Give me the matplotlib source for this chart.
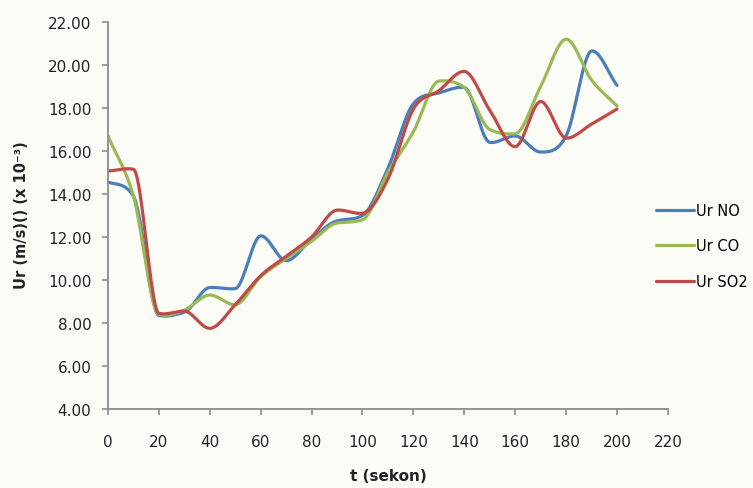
import numpy as np
import matplotlib.pyplot as plt
from matplotlib.ticker import FormatStrFormatter, MultipleLocator

# time (s) and Ur readings (x 10^-3 m/s) for each gas
t = [0, 10, 20, 30, 40, 50, 60, 70, 80, 90, 100,
     110, 120, 130, 140, 150, 160, 170, 180, 190, 200]
ur_no = [14.55, 13.9, 8.35, 8.5, 9.65, 9.6, 12.05, 10.9, 11.9, 12.75, 13.0,
         15.2, 18.2, 18.7, 18.95, 16.4, 16.7, 15.95, 16.7, 20.65, 19.05]
ur_co = [16.7, 13.9, 8.4, 8.6, 9.3, 8.85, 10.15, 11.0, 11.8, 12.65, 12.8,
         15.0, 16.9, 19.25, 18.95, 17.0, 16.8, 19.0, 21.2, 19.3, 18.1]
ur_so2 = [15.07, 15.15, 8.45, 8.55, 7.75, 8.85, 10.2, 11.1, 12.0, 13.25, 13.1,
          14.7, 17.95, 18.8, 19.7, 17.9, 16.2, 18.3, 16.6, 17.25, 17.95]

series = [("Ur NO", ur_no, "#4a7ebb"),
          ("Ur CO", ur_co, "#98b954"),
          ("Ur SO2", ur_so2, "#be4b48")]


def smooth(x, y, n=30):
    # cubic Hermite curve through the points; tangents softened at peaks
    # and limited on steep steps so the curve does not overshoot much
    x = np.asarray(x, float)
    y = np.asarray(y, float)
    h = np.diff(x)
    d = np.diff(y) / h
    m = np.zeros_like(y)
    m[0], m[-1] = d[0], d[-1]
    for i in range(1, len(y) - 1):
        avg = 0.5 * (d[i - 1] + d[i])
        if d[i - 1] * d[i] <= 0:
            m[i] = 0.15 * avg
        else:
            m[i] = avg
    for i in range(len(d)):
        if d[i] == 0:
            continue
        a, b = m[i] / d[i], m[i + 1] / d[i]
        r = a * a + b * b
        if r > 9:
            k = 3 / np.sqrt(r)
            m[i], m[i + 1] = k * a * d[i], k * b * d[i]
    xs, ys = [], []
    s = np.linspace(0, 1, n, endpoint=False)
    for i in range(len(d)):
        h00 = 2 * s ** 3 - 3 * s ** 2 + 1
        h10 = s ** 3 - 2 * s ** 2 + s
        h01 = -2 * s ** 3 + 3 * s ** 2
        h11 = s ** 3 - s ** 2
        xs.append(x[i] + s * h[i])
        ys.append(h00 * y[i] + h10 * h[i] * m[i] + h01 * y[i + 1] + h11 * h[i] * m[i + 1])
    xs.append([x[-1]])
    ys.append([y[-1]])
    return np.concatenate(xs), np.concatenate(ys)


bg = "#fcfcf7"
fig = plt.figure(figsize=(7.53, 4.89), dpi=100, facecolor=bg)
ax = fig.add_axes([0.1434, 0.1616, 0.7436, 0.7914], facecolor=bg)

for name, vals, col in series:
    sx, sy = smooth(t, vals)
    ax.plot(sx, sy, color=col, lw=2.3, label=name, solid_capstyle="round")

ax.set_xlim(0, 220)
ax.set_ylim(4, 22)
ax.xaxis.set_major_locator(MultipleLocator(20))
ax.yaxis.set_major_locator(MultipleLocator(2))
ax.yaxis.set_major_formatter(FormatStrFormatter("%.2f"))

for side in ["top", "right"]:
    ax.spines[side].set_visible(False)
for side in ["left", "bottom"]:
    ax.spines[side].set_color("#8c8c8c")
    ax.spines[side].set_linewidth(1.3)

ax.tick_params(axis="y", direction="out", length=4, width=1.2, color="#8c8c8c",
               labelsize=11, pad=8, labelcolor="#222222")
ax.tick_params(axis="x", direction="out", length=4, width=1.2, color="#8c8c8c",
               labelsize=11, pad=14, labelcolor="#222222")

ax.set_xlabel("t (sekon)", fontsize=11, fontweight="bold", color="#222222", labelpad=14)
fig.text(0.029, 0.56, "Ur (m/s)() (x 10⁻³)", rotation=90, fontsize=10.5,
         fontweight="bold", color="#222222", ha="center", va="center")

ax.legend(loc="center left", bbox_to_anchor=(0.864, 0.495), bbox_transform=fig.transFigure,
          frameon=False, fontsize=10.5, handlelength=2.6, handletextpad=0.1,
          labelspacing=1.4, borderaxespad=0)

fig.savefig("out.png", dpi=100, facecolor=bg)
